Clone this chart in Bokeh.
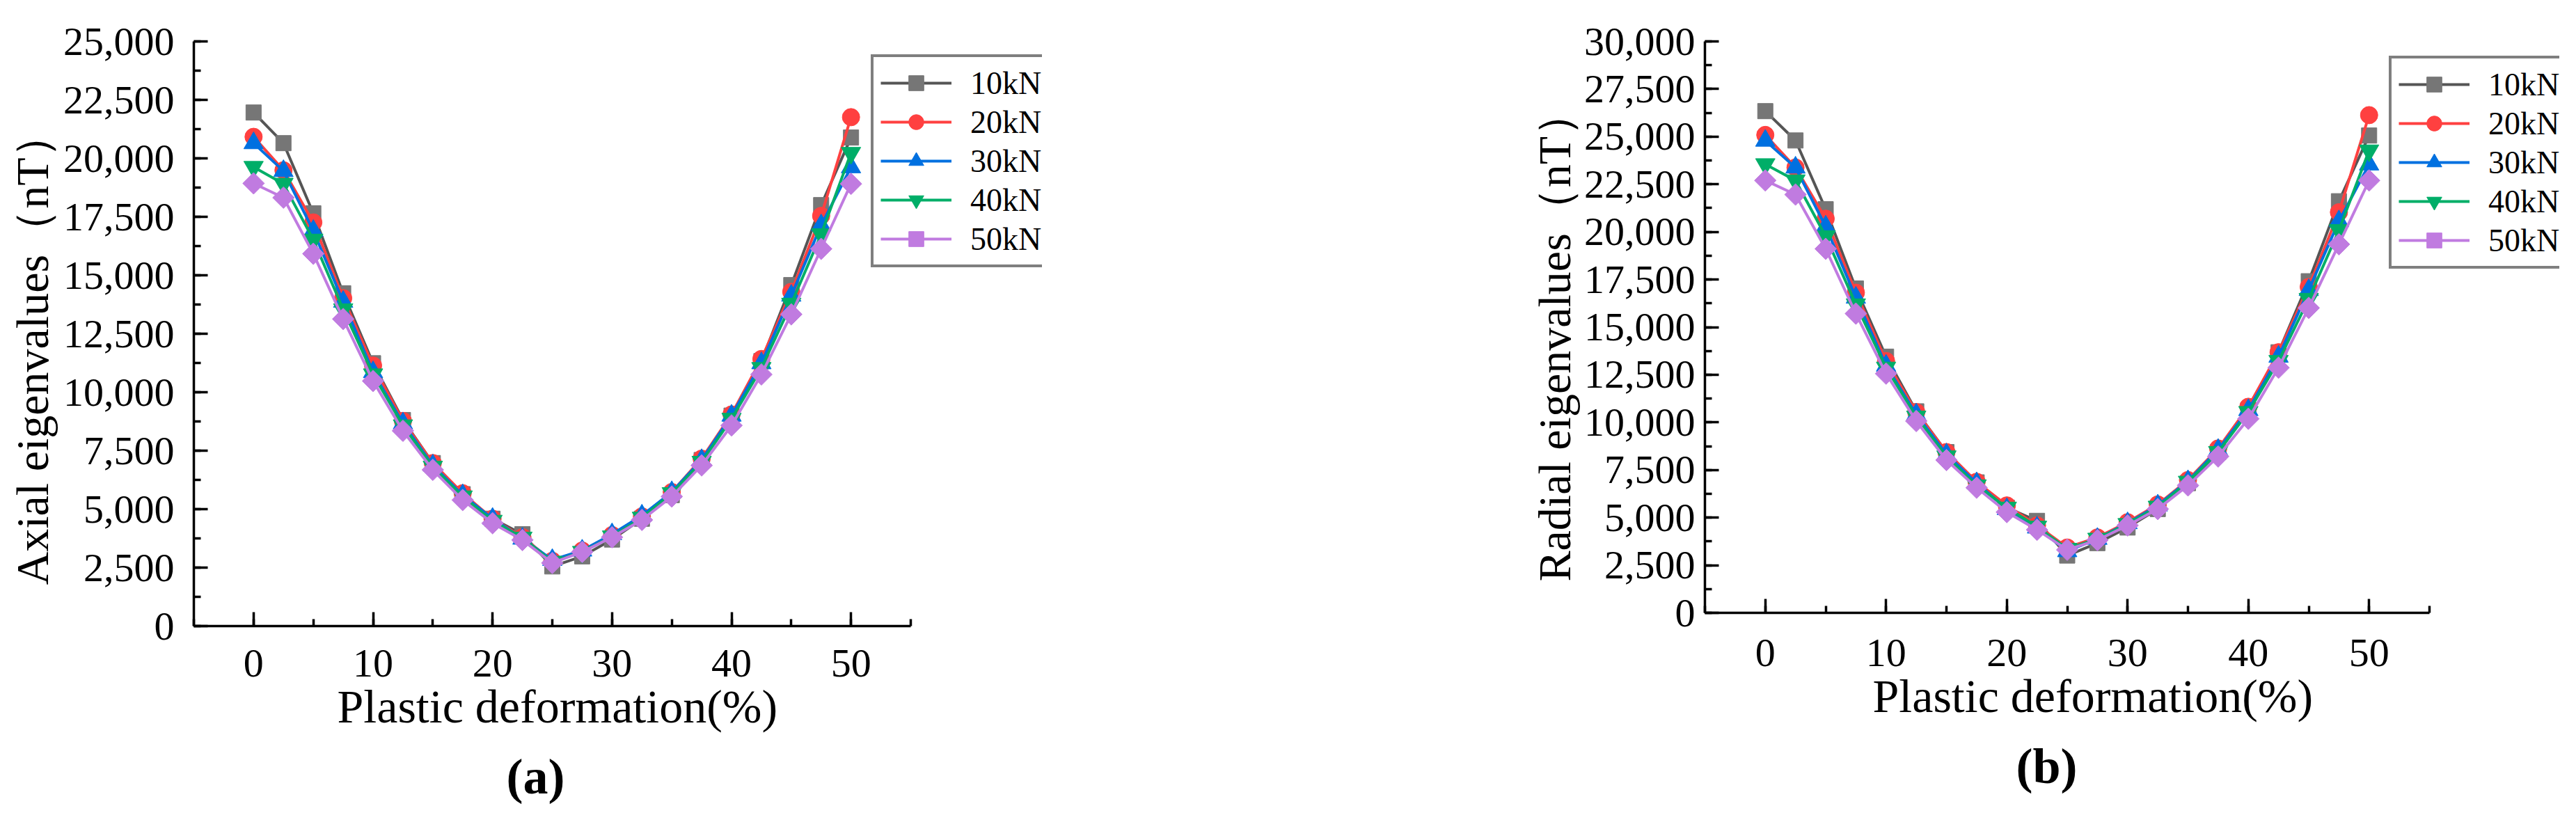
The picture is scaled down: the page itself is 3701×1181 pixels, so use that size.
import math
from bokeh.plotting import figure
from bokeh.layouts import row
from bokeh.models import (Range1d, SingleIntervalTicker, NumeralTickFormatter,
                          Legend, LegendItem, Title)
from bokeh.embed import file_html
from bokeh.resources import INLINE

# ---------------- data ----------------
deformation = [0, 2.5, 5, 7.5, 10, 12.5, 15, 17.5, 20, 22.5, 25,
               27.5, 30, 32.5, 35, 37.5, 40, 42.5, 45, 47.5, 50]
series_names = ["10kN", "20kN", "30kN", "40kN", "50kN"]

axial_10kN = [21960, 20650, 17650, 14230, 11240, 8810, 6970, 5640, 4590, 3930, 2550,
              2980, 3700, 4590, 5600, 7100, 9000, 11330, 14580, 18000, 20890]
axial_20kN = [20920, 19490, 17260, 14020, 11140, 8770, 6970, 5680, 4590, 3800, 2790,
              3230, 3890, 4690, 5730, 7160, 9050, 11420, 14290, 17540, 21760]
axial_30kN = [20650, 19460, 16900, 13870, 10860, 8670, 6870, 5600, 4590, 3740, 2830,
              3230, 3930, 4730, 5730, 7100, 9000, 11240, 14130, 17140, 19620]
axial_40kN = [19630, 18910, 16520, 13540, 10760, 8580, 6810, 5540, 4500, 3780, 2750,
              3170, 3830, 4630, 5680, 7020, 8860, 11030, 13780, 16750, 20230]
axial_50kN = [18930, 18320, 15920, 13130, 10480, 8350, 6680, 5390, 4400, 3680, 2700,
              3170, 3800, 4540, 5540, 6870, 8580, 10760, 13330, 16130, 18910]

radial_10kN = [26340, 24800, 21190, 17030, 13450, 10580, 8440, 6850, 5520, 4830, 3010,
               3660, 4480, 5450, 6810, 8440, 10650, 13680, 17410, 21610, 25060]
radial_20kN = [25090, 23380, 20690, 16810, 13220, 10540, 8440, 6880, 5640, 4590, 3430,
               3960, 4760, 5690, 6970, 8630, 10820, 13680, 17110, 21030, 26130]
radial_30kN = [24790, 23380, 20280, 16550, 12980, 10420, 8320, 6810, 5450, 4480, 3240,
               3890, 4710, 5640, 6920, 8560, 10650, 13450, 16950, 20560, 23540]
radial_40kN = [23550, 22700, 19770, 16190, 12870, 10300, 8210, 6690, 5520, 4520, 3360,
               3890, 4660, 5570, 6880, 8440, 10540, 13220, 16480, 20090, 24270]
radial_50kN = [22700, 21960, 19110, 15710, 12560, 10070, 8020, 6570, 5290, 4360, 3310,
               3820, 4590, 5450, 6690, 8210, 10190, 12870, 16010, 19350, 22700]

axial_series = [axial_10kN, axial_20kN, axial_30kN, axial_40kN, axial_50kN]
radial_series = [radial_10kN, radial_20kN, radial_30kN, radial_40kN, radial_50kN]

x_axis_bounds = (-5, 55)
x_title = "Plastic deformation(%)"

# ---------------- styles ----------------
FONT = "Liberation Serif"
line_colors = ["#555555", "#FF4040", "#0070E0", "#00AE68", "#C07BE0"]
marker_colors = ["#767676", "#FF4040", "#0070E0", "#00AE68", "#C07BE0"]
markers = ["square", "circle", "triangle", "inverted_triangle", "square"]
marker_sizes = [22, 25, 28, 28, 22]
marker_angles = [0, 0, 0, 0, math.pi / 4]


def make_panel(ys, ymax, ylabel, axis_w, frame_w, frame_h, bl, br, bt, bb,
               ytick_standoff, ylabel_offset, ylabel_standoff, xtick_standoff,
               xlabel_offset, xlabel_standoff,
               legend_loc, tag, tag_offset, tag_standoff):
    # frame extends to the right of the x axis end so the legend is not clipped
    span = x_axis_bounds[1] - x_axis_bounds[0]
    x_end = x_axis_bounds[0] + span * frame_w / axis_w
    p = figure(frame_width=frame_w, frame_height=frame_h,
               x_range=Range1d(x_axis_bounds[0], x_end), y_range=Range1d(0, ymax),
               output_backend="svg", toolbar_location=None,
               min_border_left=bl, min_border_right=br,
               min_border_top=bt, min_border_bottom=bb)
    p.outline_line_color = None
    p.xgrid.visible = False
    p.ygrid.visible = False
    p.background_fill_color = "white"
    p.border_fill_color = "white"

    p.xaxis.bounds = x_axis_bounds
    p.xaxis.ticker = SingleIntervalTicker(interval=10, num_minor_ticks=2)
    p.yaxis.ticker = SingleIntervalTicker(interval=2500, num_minor_ticks=2)
    p.yaxis.formatter = NumeralTickFormatter(format="0,0")

    for ax in (p.xaxis, p.yaxis):
        ax.axis_line_width = 3.5
        ax.axis_line_color = "black"
        ax.major_tick_line_width = 3.5
        ax.minor_tick_line_width = 3.5
        ax.major_tick_in = 20
        ax.major_tick_out = 0
        ax.minor_tick_in = 10
        ax.minor_tick_out = 0
        ax.major_label_text_font = FONT
        ax.major_label_text_font_size = "58px"
        ax.major_label_text_color = "black"

    p.yaxis.major_label_standoff = ytick_standoff
    p.xaxis.major_label_standoff = xtick_standoff

    items = []
    for i, name in enumerate(series_names):
        ln = p.line(deformation, ys[i], line_color=line_colors[i], line_width=4)
        sc = p.scatter(deformation, ys[i], marker=markers[i], size=marker_sizes[i],
                       angle=marker_angles[i], fill_color=marker_colors[i],
                       line_color=marker_colors[i], line_width=1)
        items.append(LegendItem(label=name, renderers=[ln, sc]))

    legend = Legend(items=items, location=legend_loc)
    legend.border_line_color = "black"
    legend.border_line_width = 4
    legend.background_fill_color = "white"
    legend.background_fill_alpha = 1
    legend.label_text_font = FONT
    legend.label_text_font_size = "46px"
    legend.label_text_color = "black"
    legend.glyph_width = 102
    legend.glyph_height = 54
    legend.label_standoff = 27
    legend.padding = 10
    legend.spacing = 2
    legend.margin = 0
    p.add_layout(legend, "center")

    # y-axis title
    p.add_layout(Title(text=ylabel, align="left", offset=ylabel_offset,
                       standoff=ylabel_standoff, text_font=FONT,
                       text_font_size="66px", text_font_style="normal",
                       text_color="black"), "left")
    # x-axis title (placed under the axis, aligned with the axis extent)
    p.add_layout(Title(text=x_title, align="left", offset=xlabel_offset,
                       standoff=xlabel_standoff, text_font=FONT,
                       text_font_size="68px", text_font_style="normal",
                       text_color="black"), "below")
    # panel tag
    p.add_layout(Title(text=tag, align="left", offset=tag_offset, standoff=tag_standoff,
                       text_font=FONT, text_font_size="72px", text_font_style="bold",
                       text_color="black"), "below")
    return p


p1 = make_panel(axial_series, 25000, "Axial eigenvalues（nT）",
                1030, 1219, 840, 278, 345, 40, 293,
                ytick_standoff=28, ylabel_offset=59, ylabel_standoff=10,
                xtick_standoff=34, xlabel_offset=206, xlabel_standoff=0,
                legend_loc=(973, 515), tag="(a)", tag_offset=449, tag_standoff=42)
p2 = make_panel(radial_series, 30000, "Radial eigenvalues（nT）",
                1041, 1228, 821, 607, 8, 59, 293,
                ytick_standoff=14, ylabel_offset=45, ylabel_standoff=5,
                xtick_standoff=38, xlabel_offset=241, xlabel_standoff=0,
                legend_loc=(983, 494), tag="(b)", tag_offset=447, tag_standoff=42)

layout = row(p1, p2)
open("out.html", "w").write(file_html(layout, INLINE))
